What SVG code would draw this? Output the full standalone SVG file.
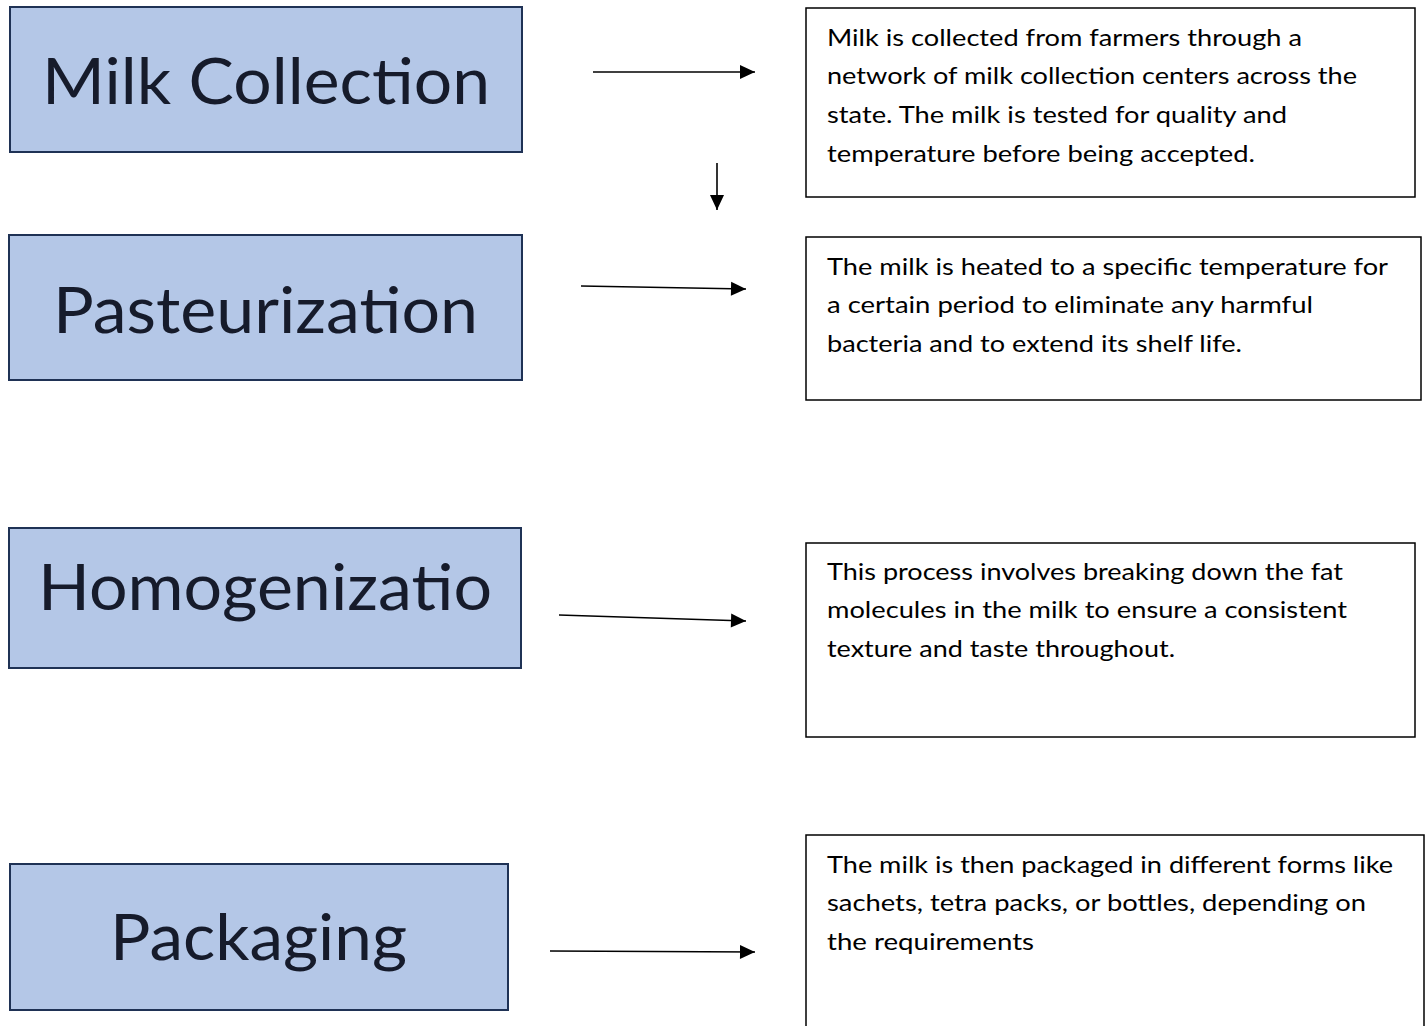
<svg xmlns="http://www.w3.org/2000/svg" width="1427" height="1026" viewBox="0 0 1427 1026">
<style>
.step{fill:#b4c7e7;stroke:#1f3255;stroke-width:2}
.lbl{font-family:Lato,"Open Sans",sans-serif;font-size:64px;fill:#161b2b;text-anchor:middle}
.desc{fill:#ffffff;stroke:#000;stroke-width:1.5}
.txt{font-family:Lato,"Open Sans",sans-serif;font-size:24px;fill:#000}
.conn{stroke:#000;stroke-width:1.6;fill:none;marker-end:url(#ah)}
</style>
<defs>
<marker id="ah" viewBox="0 0 15 14" refX="15" refY="7" markerWidth="15" markerHeight="14" markerUnits="userSpaceOnUse" orient="auto" overflow="visible">
<path d="M0,0 L15,7 L0,14 z" fill="#000"/>
</marker>
</defs>
<rect width="1427" height="1026" fill="#fff"/>
<g id="node-milk-collection">
<rect class="step" x="10" y="7" width="512" height="145"/>
<text class="lbl" x="266" y="104" textLength="448" lengthAdjust="spacingAndGlyphs">Milk Collection</text>
</g>
<g id="node-pasteurization">
<rect class="step" x="9" y="235" width="513" height="145"/>
<text class="lbl" x="265.5" y="333" textLength="425" lengthAdjust="spacingAndGlyphs">Pasteurization</text>
</g>
<g id="node-homogenization">
<rect class="step" x="9" y="528" width="512" height="140"/>
<text class="lbl" x="265" y="610" textLength="454" lengthAdjust="spacingAndGlyphs">Homogenizatio</text>
</g>
<g id="node-packaging">
<rect class="step" x="10" y="864" width="498" height="146"/>
<text class="lbl" x="258.5" y="960" textLength="297" lengthAdjust="spacingAndGlyphs">Packaging</text>
</g>
<g id="desc-milk-collection">
<rect class="desc" x="806" y="8" width="609" height="189"/>
<text class="txt" x="827" y="46" textLength="475" lengthAdjust="spacingAndGlyphs">Milk is collected from farmers through a</text>
<text class="txt" x="827" y="84" textLength="530" lengthAdjust="spacingAndGlyphs">network of milk collection centers across the</text>
<text class="txt" x="827" y="123" textLength="460" lengthAdjust="spacingAndGlyphs">state. The milk is tested for quality and</text>
<text class="txt" x="827" y="162" textLength="428" lengthAdjust="spacingAndGlyphs">temperature before being accepted.</text>
</g>
<g id="desc-pasteurization">
<rect class="desc" x="806" y="237" width="615" height="163"/>
<text class="txt" x="827" y="275" textLength="561" lengthAdjust="spacingAndGlyphs">The milk is heated to a specific temperature for</text>
<text class="txt" x="827" y="313" textLength="486" lengthAdjust="spacingAndGlyphs">a certain period to eliminate any harmful</text>
<text class="txt" x="827" y="352" textLength="415" lengthAdjust="spacingAndGlyphs">bacteria and to extend its shelf life.</text>
</g>
<g id="desc-homogenization">
<rect class="desc" x="806" y="543" width="609" height="194"/>
<text class="txt" x="827" y="580" textLength="516" lengthAdjust="spacingAndGlyphs">This process involves breaking down the fat</text>
<text class="txt" x="827" y="618" textLength="520" lengthAdjust="spacingAndGlyphs">molecules in the milk to ensure a consistent</text>
<text class="txt" x="827" y="657" textLength="348" lengthAdjust="spacingAndGlyphs">texture and taste throughout.</text>
</g>
<g id="desc-packaging">
<path class="desc" d="M806,1030 L806,835 L1424,835 L1424,1030"/>
<text class="txt" x="827" y="873" textLength="566" lengthAdjust="spacingAndGlyphs">The milk is then packaged in different forms like</text>
<text class="txt" x="827" y="911" textLength="539" lengthAdjust="spacingAndGlyphs">sachets, tetra packs, or bottles, depending on</text>
<text class="txt" x="827" y="950" textLength="207" lengthAdjust="spacingAndGlyphs">the requirements</text>
</g>
<g id="connectors">
<line class="conn" x1="593" y1="72" x2="755" y2="72"/>
<line class="conn" x1="717" y1="163" x2="717" y2="210"/>
<line class="conn" x1="581" y1="286" x2="746" y2="289"/>
<line class="conn" x1="559" y1="615" x2="746" y2="621"/>
<line class="conn" x1="550" y1="951" x2="755" y2="952"/>
</g>
</svg>
